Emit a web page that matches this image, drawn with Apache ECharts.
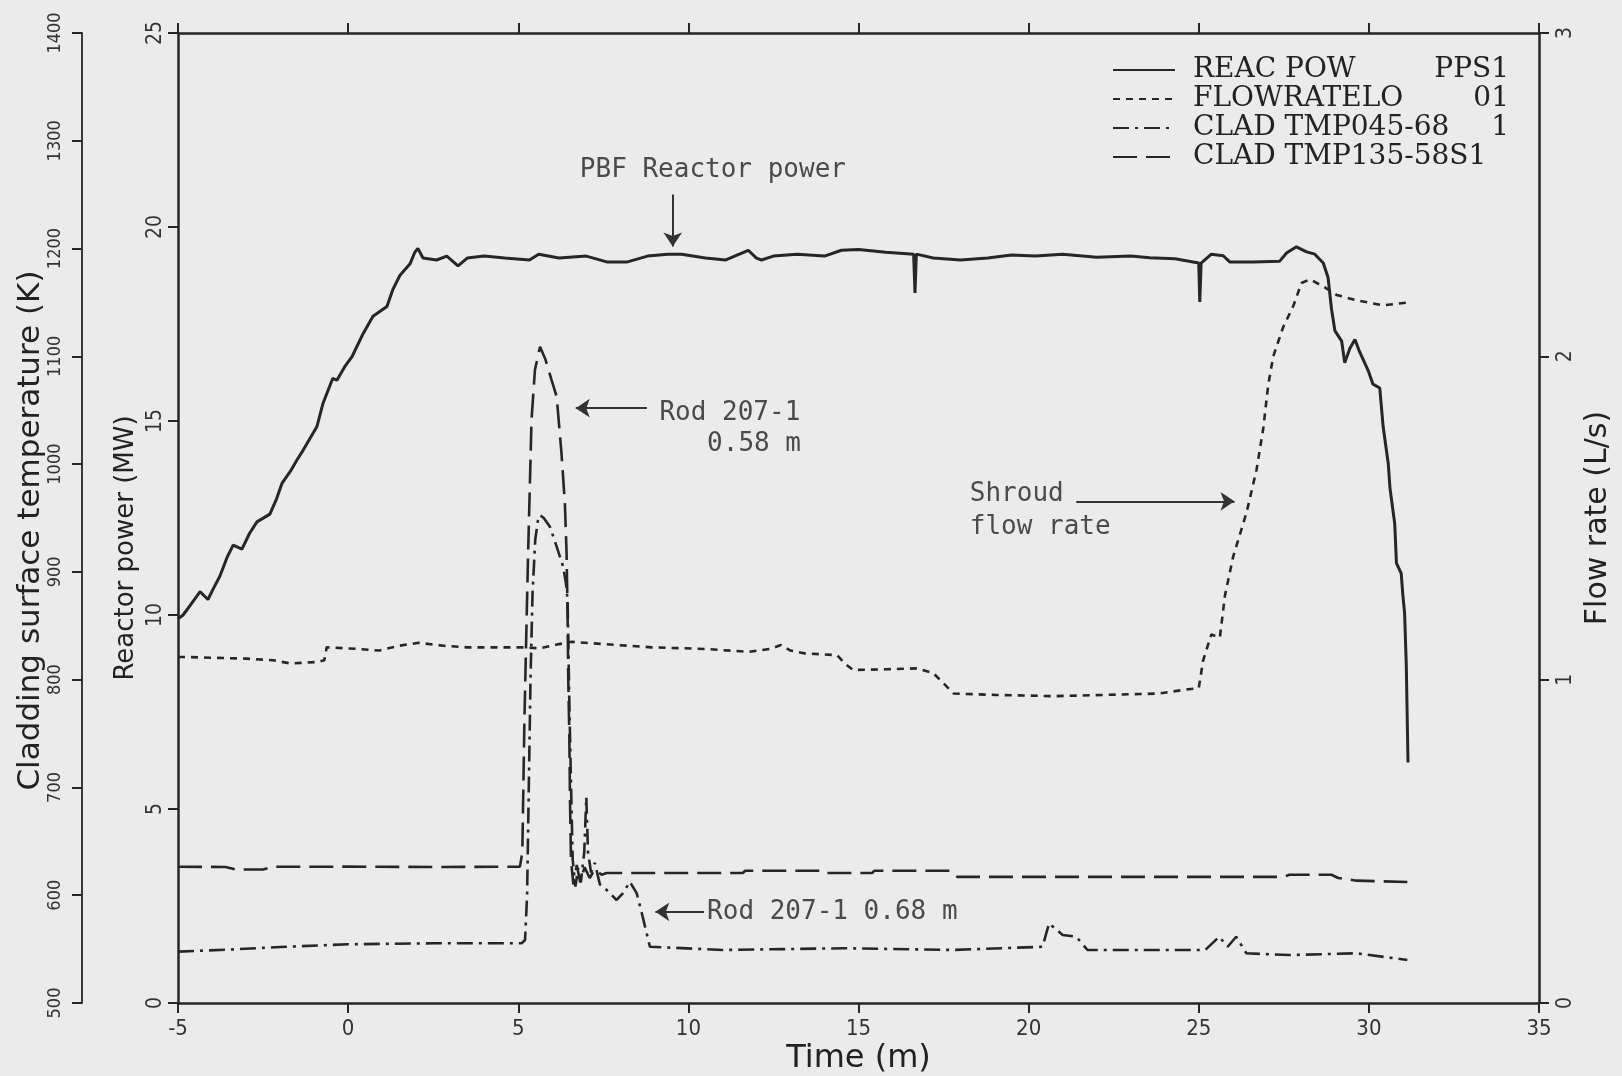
<!DOCTYPE html>
<html>
<head>
<meta charset="utf-8">
<title>PBF reactor power, flow and cladding temperature</title>
<script src="https://cdn.jsdelivr.net/npm/echarts/dist/echarts.min.js"></script>
<style>
  html, body { margin: 0; padding: 0; background: #ebebeb; }
  #chart { width: 1622px; height: 1076px; }
</style>
</head>
<body>
<div id="chart"></div>
<script>
// [time (min), reactor power (MW)]
const reactorPower = [
  [-5.0, 9.9], [-4.85, 10.0], [-4.6, 10.3], [-4.35, 10.6], [-4.12, 10.4], [-3.95, 10.7],
  [-3.77, 11.0], [-3.55, 11.5], [-3.38, 11.8], [-3.12, 11.7], [-2.9, 12.1], [-2.68, 12.4],
  [-2.3, 12.6], [-2.1, 13.0], [-1.94, 13.4], [-1.7, 13.7], [-1.5, 14.0], [-1.32, 14.25],
  [-0.92, 14.85], [-0.74, 15.45], [-0.45, 16.1], [-0.33, 16.05], [-0.1, 16.4], [0.11, 16.65],
  [0.44, 17.25], [0.73, 17.7], [1.14, 17.95], [1.32, 18.4], [1.52, 18.75], [1.82, 19.05],
  [1.96, 19.35], [2.05, 19.45], [2.2, 19.2], [2.6, 19.15], [2.9, 19.25], [3.23, 19.0],
  [3.5, 19.2], [4.0, 19.25], [4.6, 19.2], [5.33, 19.15], [5.6, 19.3], [6.2, 19.2],
  [7.0, 19.25], [7.6, 19.1], [8.21, 19.1], [8.8, 19.25], [9.4, 19.3], [9.8, 19.3],
  [10.5, 19.2], [11.1, 19.15], [11.5, 19.3], [11.76, 19.4], [12.0, 19.2], [12.15, 19.15],
  [12.5, 19.25], [13.2, 19.3], [14.0, 19.25], [14.5, 19.4], [15.0, 19.42], [15.8, 19.35],
  [16.62, 19.3], [16.66, 18.3], [16.7, 19.3], [17.2, 19.2], [18.0, 19.15], [18.8, 19.2],
  [19.5, 19.28], [20.2, 19.25], [21.0, 19.3], [22.0, 19.22], [23.0, 19.25], [23.56, 19.21],
  [24.3, 19.18], [25.0, 19.07], [25.03, 18.07], [25.07, 19.07], [25.37, 19.3], [25.72, 19.26],
  [25.91, 19.1], [26.6, 19.1], [27.38, 19.12], [27.58, 19.33], [27.87, 19.49], [28.17, 19.36],
  [28.41, 19.3], [28.66, 19.07], [28.8, 18.7], [28.9, 17.9], [29.0, 17.33], [29.2, 17.06],
  [29.29, 16.5], [29.44, 16.87], [29.59, 17.1], [29.73, 16.78], [29.98, 16.3], [30.12, 15.95],
  [30.32, 15.85], [30.42, 14.85], [30.57, 13.9], [30.62, 13.27], [30.76, 12.35], [30.81, 11.34],
  [30.95, 11.07], [31.0, 10.5], [31.05, 10.05], [31.1, 8.7], [31.15, 6.2]
];

// [time (min), shroud flow rate (L/s)]
const shroudFlow = [
  [-5.0, 1.07], [-4.77, 1.07], [-3.0, 1.065], [-2.2, 1.06], [-1.69, 1.05], [-0.87, 1.055],
  [-0.7, 1.06], [-0.63, 1.10], [0.3, 1.095], [0.91, 1.09], [1.5, 1.105], [2.08, 1.114],
  [2.8, 1.105], [3.5, 1.10], [4.5, 1.10], [5.16, 1.10], [5.63, 1.097], [6.2, 1.11],
  [6.58, 1.117], [7.5, 1.11], [8.93, 1.10], [10.5, 1.095], [11.77, 1.086], [12.4, 1.095],
  [12.72, 1.107], [13.0, 1.09], [13.43, 1.081], [14.37, 1.076], [14.6, 1.05], [14.84, 1.03],
  [15.8, 1.032], [16.73, 1.035], [17.2, 1.02], [17.8, 0.957], [19.0, 0.953], [20.74, 0.949],
  [22.3, 0.953], [23.82, 0.957], [24.53, 0.968], [25.0, 0.974], [25.13, 1.06], [25.37, 1.14],
  [25.62, 1.13], [25.77, 1.26], [26.01, 1.38], [26.4, 1.515], [26.7, 1.65], [26.9, 1.78],
  [27.04, 1.91], [27.19, 2.0], [27.48, 2.09], [27.78, 2.156], [28.02, 2.227], [28.27, 2.238],
  [28.66, 2.216], [29.05, 2.19], [29.64, 2.173], [30.42, 2.158], [31.2, 2.167]
];

// [time (min), cladding temperature (K)] rod 207-1 at 0.68 m
const cladTmp045 = [
  [-5.0, 547.7], [-3.5, 549.5], [-2.0, 552], [0.0, 554.5], [2.5, 555.4], [5.1, 555.4],
  [5.2, 558.5], [5.26, 600], [5.31, 700], [5.36, 800], [5.42, 880], [5.5, 930],
  [5.58, 948], [5.64, 952.8], [5.75, 950], [5.93, 941.9], [6.13, 923.4], [6.32, 904.8],
  [6.4, 890], [6.45, 873.9], [6.5, 781], [6.55, 704], [6.6, 633], [6.68, 608],
  [6.76, 625], [6.84, 612], [6.94, 640], [7.0, 691], [7.05, 640], [7.14, 621],
  [7.25, 630], [7.4, 610], [7.6, 604.8], [7.89, 595.6], [8.08, 602], [8.28, 612.5],
  [8.48, 602], [8.63, 583.5], [8.87, 552.2], [11.0, 549.2], [14.6, 550.8], [17.77, 549.2],
  [20.41, 552.2], [20.6, 573.9], [21.0, 563.1], [21.4, 561.5], [21.73, 549.2], [25.19, 549.2],
  [25.6, 561.5], [25.85, 552.2], [26.1, 561.5], [26.4, 546.1], [27.66, 544.5], [29.64, 546.1],
  [31.13, 539.9]
];

// [time (min), cladding temperature (K)] rod 207-1 at 0.58 m
const cladTmp135 = [
  [-5.0, 626.4], [-3.6, 626.2], [-3.3, 623.8], [-2.5, 623.8], [-2.2, 626.4], [0.0, 626.5],
  [2.5, 626.2], [5.05, 626.5], [5.12, 640], [5.18, 760], [5.25, 861.8], [5.29, 917.5],
  [5.34, 979], [5.39, 1040.9], [5.49, 1087.3], [5.64, 1108.9], [5.8, 1097], [5.98, 1078],
  [6.13, 1062.5], [6.27, 1010.3], [6.37, 963.9], [6.42, 917.5], [6.45, 861.8], [6.47, 800],
  [6.5, 750], [6.52, 690], [6.55, 633], [6.62, 610], [6.72, 628], [6.82, 612],
  [6.95, 626], [7.1, 616], [7.25, 624], [7.45, 619], [7.6, 620.6], [9.5, 620.6],
  [11.6, 620.6], [11.67, 622.7], [13.9, 622.7], [13.97, 620.6], [15.4, 620.6], [15.46, 622.7],
  [17.7, 622.7], [17.9, 617], [27.5, 617], [27.66, 619], [28.9, 619], [29.1, 616],
  [29.64, 613.5], [31.13, 612.3]
];

const seriesNames = ['REAC POW', 'FLOWRATELO', 'CLAD TMP045-68', 'CLAD TMP135-58S1'];
const channelTags = ['PPS1', '01', '1', ''];

// annotations, in (time, MW) units
const noteTexts = [
  { text: 'PBF Reactor power', at: [6.81, 21.46] },
  { text: 'Rod 207-1', at: [9.15, 15.19] },
  { text: '0.58 m', at: [10.55, 14.39] },
  { text: 'Shroud', at: [18.27, 13.11] },
  { text: 'flow rate', at: [18.27, 12.26] },
  { text: 'Rod 207-1 0.68 m', at: [10.55, 2.35] }
];
const noteArrows = [
  { from: [9.54, 20.84], to: [9.54, 19.5] },
  { from: [8.78, 15.33], to: [6.69, 15.33] },
  { from: [21.4, 12.93], to: [26.05, 12.93] },
  { from: [10.46, 2.35], to: [9.03, 2.35] }
];

const ink = '#262626';
const sans = '"DejaVu Sans", sans-serif';
const narrow = '"DejaVu Sans Condensed", "DejaVu Sans", sans-serif';
const serif = '"DejaVu Serif", serif';

function axisBase() {
  return {
    type: 'value',
    nameMoveOverlap: false,
    splitLine: { show: false },
    axisLine: { show: true, onZero: false, lineStyle: { color: ink, width: 2.5 } },
    axisTick: { show: true, length: 10, lineStyle: { color: ink, width: 2 } },
    axisLabel: { color: '#333', fontFamily: narrow, fontSize: 21 }
  };
}

const chart = echarts.init(document.getElementById('chart'));

const option = {
  backgroundColor: '#ebebeb',
  animation: false,
  grid: { left: 178, right: 83, top: 33, bottom: 73, outerBoundsMode: 'none', containLabel: false },
  legend: {
    orient: 'vertical',
    left: 1107,
    top: 51,
    itemWidth: 62,
    itemHeight: 14,
    itemGap: 1,
    selectedMode: false,
    data: seriesNames,
    itemStyle: { color: 'rgba(0,0,0,0)', borderWidth: 0, opacity: 0 },
    formatter: function (name) {
      const i = seriesNames.indexOf(name);
      return '{g|}{n|' + name + '}{c|' + channelTags[i] + '}';
    },
    textStyle: {
      color: '#222',
      fontFamily: serif,
      fontSize: 28,
      lineHeight: 28,
      rich: {
        g: { width: 13 },
        n: { width: 250, fontFamily: serif, fontSize: 28, color: '#222' },
        c: { width: 66, align: 'right', fontFamily: serif, fontSize: 28, color: '#222' }
      }
    }
  },
  xAxis: [
    Object.assign(axisBase(), {
      min: -5, max: 35, interval: 5, position: 'bottom',
      name: 'Time (m)', nameLocation: 'middle', nameGap: 40,
      nameTextStyle: { color: '#222', fontFamily: sans, fontSize: 32 },
      axisLabel: { color: '#333', fontFamily: narrow, fontSize: 22, margin: 15 }
    }),
    Object.assign(axisBase(), {
      min: -5, max: 35, interval: 5, position: 'top',
      axisLabel: { show: false }
    })
  ],
  yAxis: [
    Object.assign(axisBase(), {
      min: 0, max: 25, interval: 5, position: 'left',
      name: 'Reactor power (MW)', nameLocation: 'middle', nameGap: 39, nameRotate: 90,
      nameTextStyle: { color: '#222', fontFamily: sans, fontSize: 26, padding: [0, 60, 0, 0] },
      axisLabel: { color: '#333', fontFamily: narrow, fontSize: 21, rotate: 90, margin: 12 }
    }),
    Object.assign(axisBase(), {
      min: 0, max: 3, interval: 1, position: 'right',
      name: 'Flow rate (L/s)', nameLocation: 'middle', nameGap: 44, nameRotate: 90,
      nameTextStyle: { color: '#222', fontFamily: sans, fontSize: 30 },
      axisLabel: { color: '#333', fontFamily: narrow, fontSize: 21, rotate: 90, margin: 16 }
    }),
    Object.assign(axisBase(), {
      min: 500, max: 1400, interval: 100, position: 'left', offset: 96,
      name: 'Cladding surface temperature (K)', nameLocation: 'middle', nameGap: 36, nameRotate: 90,
      nameTextStyle: { color: '#222', fontFamily: sans, fontSize: 31, padding: [0, 25, 0, 0] },
      axisLine: { show: true, onZero: false, lineStyle: { color: ink, width: 1.8 } },
      axisLabel: {
        color: '#333', fontFamily: narrow, fontSize: 18, rotate: 90, margin: 18,
        formatter: function (v) { return String(v); }
      }
    })
  ],
  series: [
    {
      name: seriesNames[0], type: 'line', xAxisIndex: 0, yAxisIndex: 0,
      data: reactorPower, symbol: 'none', showSymbol: false,
      lineStyle: { color: ink, width: 3, type: 'solid' },
      itemStyle: { color: ink },
      markLine: {
        silent: true,
        symbol: ['none', 'arrow'],
        symbolSize: 14,
        label: { show: false },
        lineStyle: { color: '#333', width: 2, type: 'solid' },
        data: noteArrows.map(function (a) { return [{ coord: a.from }, { coord: a.to }]; })
      }
    },
    {
      name: seriesNames[1], type: 'line', xAxisIndex: 0, yAxisIndex: 1,
      data: shroudFlow, symbol: 'none', showSymbol: false,
      lineStyle: { color: ink, width: 2.6, type: [7, 6] },
      itemStyle: { color: ink }
    },
    {
      name: seriesNames[2], type: 'line', xAxisIndex: 0, yAxisIndex: 2,
      data: cladTmp045, symbol: 'none', showSymbol: false,
      lineStyle: { color: ink, width: 2.6, type: [16, 6, 3, 6] },
      itemStyle: { color: ink }
    },
    {
      name: seriesNames[3], type: 'line', xAxisIndex: 0, yAxisIndex: 2,
      data: cladTmp135, symbol: 'none', showSymbol: false,
      lineStyle: { color: ink, width: 2.6, type: [24, 9] },
      itemStyle: { color: ink }
    }
  ]
};

chart.setOption(option);

// place the annotation texts at their data positions
chart.setOption({
  graphic: noteTexts.map(function (n) {
    const p = chart.convertToPixel({ seriesIndex: 0 }, n.at);
    return {
      type: 'text', x: p[0], y: p[1], silent: true,
      style: {
        text: n.text, fill: '#4a4a4a',
        font: '26px "DejaVu Sans Mono", monospace',
        verticalAlign: 'middle'
      }
    };
  })
});
</script>
</body>
</html>
